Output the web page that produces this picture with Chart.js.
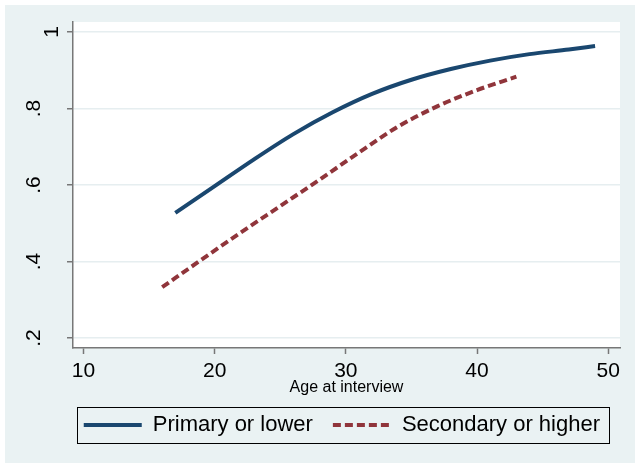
<!DOCTYPE html>
<html><head><meta charset="utf-8">
<script src="https://cdn.jsdelivr.net/npm/chart.js@4"></script>
<style>html,body{margin:0;padding:0;background:#fff;}</style>
</head><body>
<canvas id="c" width="641" height="469"></canvas>
<script>
// ---- data ----
const ageP = [17, 20, 23, 26, 29, 32, 35, 38, 41, 44, 47, 49];
const primary = [0.527, 0.597, 0.667, 0.733, 0.790, 0.838, 0.875, 0.903, 0.925, 0.942, 0.954, 0.963];
const ageS = [16, 19, 22, 25, 28, 31, 34, 37, 40, 43];
const secondary = [0.333, 0.405, 0.476, 0.545, 0.614, 0.685, 0.753, 0.806, 0.848, 0.883];
const seriesLabels = ['Primary or lower', 'Secondary or higher'];
const xTicks = [10, 20, 30, 40, 50];
const xTickLabels = ['10', '20', '30', '40', '50'];
const yTicks = [0.2, 0.4, 0.6, 0.8, 1];
const yTickLabels = ['.2', '.4', '.6', '.8', '1'];
const xTitle = 'Age at interview';

const FONT = '"Liberation Sans", Arial, Helvetica, sans-serif';
const BG = '#EAF2F3';

const bgPlugin = {
  id: 'bg',
  beforeDraw(chart) {
    const {ctx, chartArea: a} = chart;
    ctx.save();
    ctx.fillStyle = '#fff';
    ctx.fillRect(0, 0, chart.width, chart.height);
    ctx.fillStyle = BG;
    ctx.fillRect(5, 5, chart.width - 11, chart.height - 11);
    ctx.fillStyle = '#fff';
    ctx.fillRect(a.left, a.top, a.right - a.left, a.bottom - a.top);
    ctx.restore();
  },
  afterDraw(chart) {
    const hb = chart.legend && chart.legend.legendHitBoxes;
    if (!hb || !hb.length) return;
    const last = hb[hb.length - 1];
    const left = Math.round(hb[0].left - 7) + 0.5;
    const right = Math.round(last.left + last.width + 9) + 0.5;
    const cy = hb[0].top + hb[0].height / 2;
    const top = Math.round(cy - 18) + 0.5;
    const ctx = chart.ctx;
    ctx.save();
    ctx.strokeStyle = '#000';
    ctx.lineWidth = 1;
    ctx.setLineDash([]);
    ctx.strokeRect(left, top, right - left, 36);
    ctx.restore();
  }
};

function noPad(s) {
  s.paddingTop = 0; s.paddingBottom = 0; s.paddingLeft = 0; s.paddingRight = 0;
}

new Chart(document.getElementById('c'), {
  type: 'line',
  data: {
    datasets: [
      {
        label: seriesLabels[0],
        data: ageP.map((x, i) => ({x: x, y: primary[i]})),
        borderColor: '#1A476F',
        backgroundColor: '#1A476F',
        borderWidth: 4,
        pointRadius: 0,
        fill: false,
        cubicInterpolationMode: 'monotone'
      },
      {
        label: seriesLabels[1],
        data: ageS.map((x, i) => ({x: x, y: secondary[i]})),
        borderColor: '#90353B',
        backgroundColor: '#90353B',
        borderWidth: 4,
        borderDash: [8, 4],
        pointRadius: 0,
        fill: false,
        cubicInterpolationMode: 'monotone'
      }
    ]
  },
  options: {
    responsive: false,
    animation: false,
    devicePixelRatio: 1,
    layout: {padding: {left: 5, right: 21, top: 22, bottom: 23}},
    plugins: {
      tooltip: {enabled: false},
      legend: {
        position: 'bottom',
        fullSize: true,
        align: 'end',
        labels: {
          boxWidth: 58,
          boxHeight: 0,
          padding: 20,
          color: '#000',
          font: {family: FONT, size: 22}
        }
      }
    },
    scales: {
      x: {
        type: 'linear',
        min: 9.2,
        max: 50.9,
        afterBuildTicks: s => { s.ticks = xTicks.map(v => ({value: v})); },
        afterFit: s => { s.height = 46; noPad(s); },
        ticks: {
          callback: v => xTickLabels[xTicks.indexOf(v)],
          color: '#000',
          font: {family: FONT, size: 21},
          padding: 5,
          maxRotation: 0,
          autoSkip: false
        },
        grid: {drawOnChartArea: false, tickLength: 6, tickColor: '#777', tickWidth: 1.5},
        border: {color: '#777', width: 1.5},
        title: {
          display: true,
          text: xTitle,
          color: '#000',
          font: {family: FONT, size: 16},
          padding: {top: 0, bottom: -3}
        }
      },
      y: {
        type: 'linear',
        min: 0.174,
        max: 1.026,
        afterBuildTicks: s => { s.ticks = yTicks.map(v => ({value: v})); },
        afterFit: s => { s.width = 68; noPad(s); },
        ticks: {
          callback: v => {
            const lab = yTickLabels[yTicks.indexOf(v)];
            return lab === '1' ? ['', lab] : lab;
          },
          color: '#000',
          font: c => ({family: FONT, size: 21, lineHeight: (c.tick && c.tick.value === 1) ? 36 / 21 : 1.2}),
          minRotation: 90,
          maxRotation: 90,
          crossAlign: 'center',
          padding: 24,
          autoSkip: false
        },
        grid: {color: '#E6EEF0', lineWidth: 1.5, tickLength: 6, tickColor: '#777', tickWidth: 1.5},
        border: {color: '#777', width: 1.5}
      }
    }
  },
  plugins: [bgPlugin]
});
</script>
</body></html>
